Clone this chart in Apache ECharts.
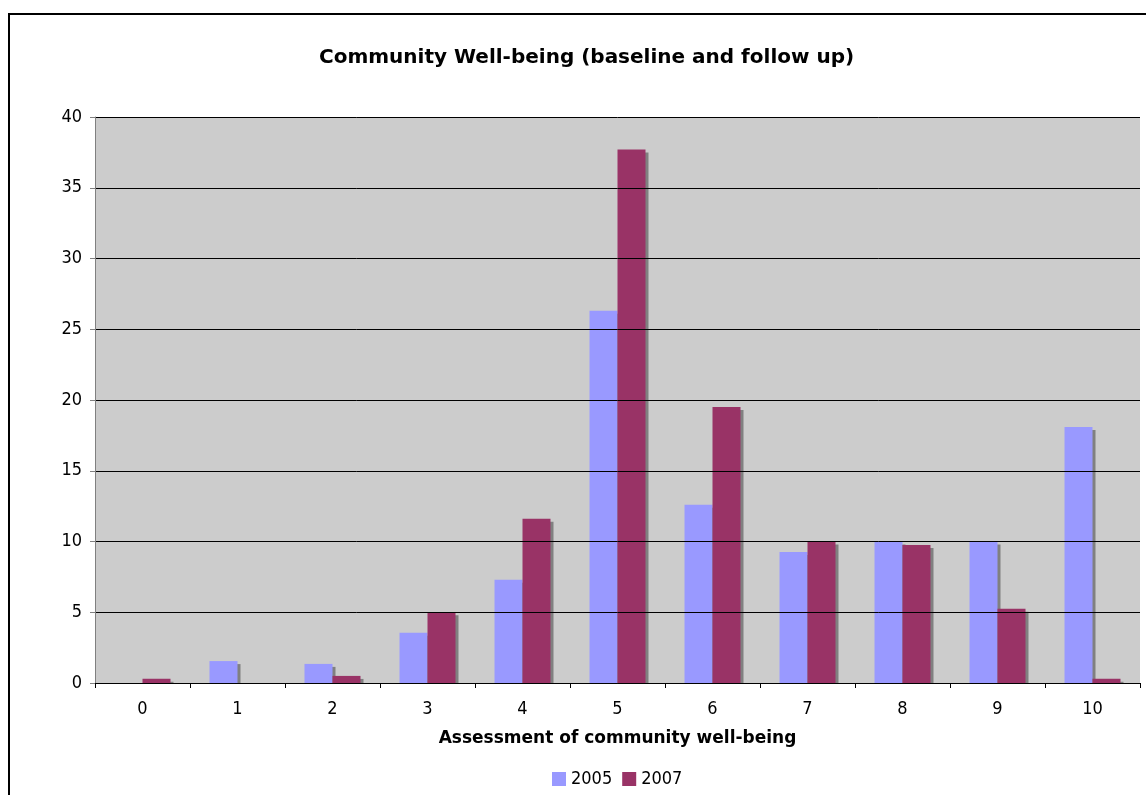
<!DOCTYPE html>
<html><head><meta charset="utf-8">
<script src="https://cdn.jsdelivr.net/npm/echarts@6/dist/echarts.min.js"></script>
<style>html,body{margin:0;padding:0;background:#fff;}#c{width:1146px;height:795px;}</style>
</head><body><div id="c"></div>
<script>
const categories = ['0','1','2','3','4','5','6','7','8','9','10'];
const values2005 = [0, 1.55, 1.35, 3.55, 7.3, 26.3, 12.6, 9.25, 10.0, 10.0, 18.1];
const values2007 = [0.3, 0, 0.5, 5.0, 11.6, 37.7, 19.5, 10.0, 9.75, 5.25, 0.3];
const yTicks = [0, 5, 10, 15, 20, 25, 30, 35, 40];

const FONT = '"DejaVu Sans Condensed", "Liberation Sans", sans-serif';
const BOLDFONT = '"DejaVu Sans", Verdana, sans-serif';
const chart = echarts.init(document.getElementById('c'));
const shadow = {shadowColor:'#808080', shadowOffsetX:3, shadowOffsetY:3, shadowBlur:0};
chart.setOption({
  animation:false,
  title:{text:'Community Well-being (baseline and follow up)', left:314, top:43,
    textStyle:{fontFamily:BOLDFONT, fontSize:20, fontWeight:'bold', color:'#000'}},
  grid:{left:95, right:6, top:117, bottom:112, show:true, backgroundColor:'#cccccc', borderWidth:0},
  legend:{top:765, left:547, itemWidth:14, itemHeight:14, itemGap:10, icon:'rect',
    textStyle:{fontFamily:FONT, fontSize:18, color:'#000'}, data:['2005','2007']},
  xAxis:{type:'category', data:categories, z:60,
    name:'Assessment of community well-being', nameLocation:'middle', nameGap:47,
    nameTextStyle:{fontFamily:BOLDFONT, fontSize:17, fontWeight:'bold', color:'#000'},
    axisLine:{lineStyle:{color:'#000', width:1}},
    axisTick:{show:true, length:5, inside:false, lineStyle:{color:'#000'}},
    axisLabel:{fontFamily:FONT, fontSize:18, color:'#000', margin:17}},
  yAxis:{type:'value', min:yTicks[0], max:yTicks[yTicks.length-1], interval:5, z:60,
    axisLine:{show:true, lineStyle:{color:'#808080'}},
    axisTick:{show:true, length:5, lineStyle:{color:'#808080'}},
    axisLabel:{fontFamily:FONT, fontSize:18, color:'#000', margin:13},
    splitLine:{show:true, lineStyle:{color:'#000', width:1}}},
  graphic:[
    {type:'rect', z:50, shape:{x:95, y:684, width:1046, height:5}, style:{fill:'#fff'}, silent:true},
    {type:'rect', z:70, shape:{x:9, y:14, width:1200, height:900}, style:{fill:'none', stroke:'#000', lineWidth:2}, silent:true}
  ],
  series:[
    {name:'2005', type:'bar', data:values2005, barWidth:28, barGap:'0%',
      itemStyle:Object.assign({color:'#9999ff'}, shadow)},
    {name:'2007', type:'bar', data:values2007, barWidth:28, barGap:'0%',
      itemStyle:Object.assign({color:'#993366'}, shadow)}
  ]
});
</script></body></html>
